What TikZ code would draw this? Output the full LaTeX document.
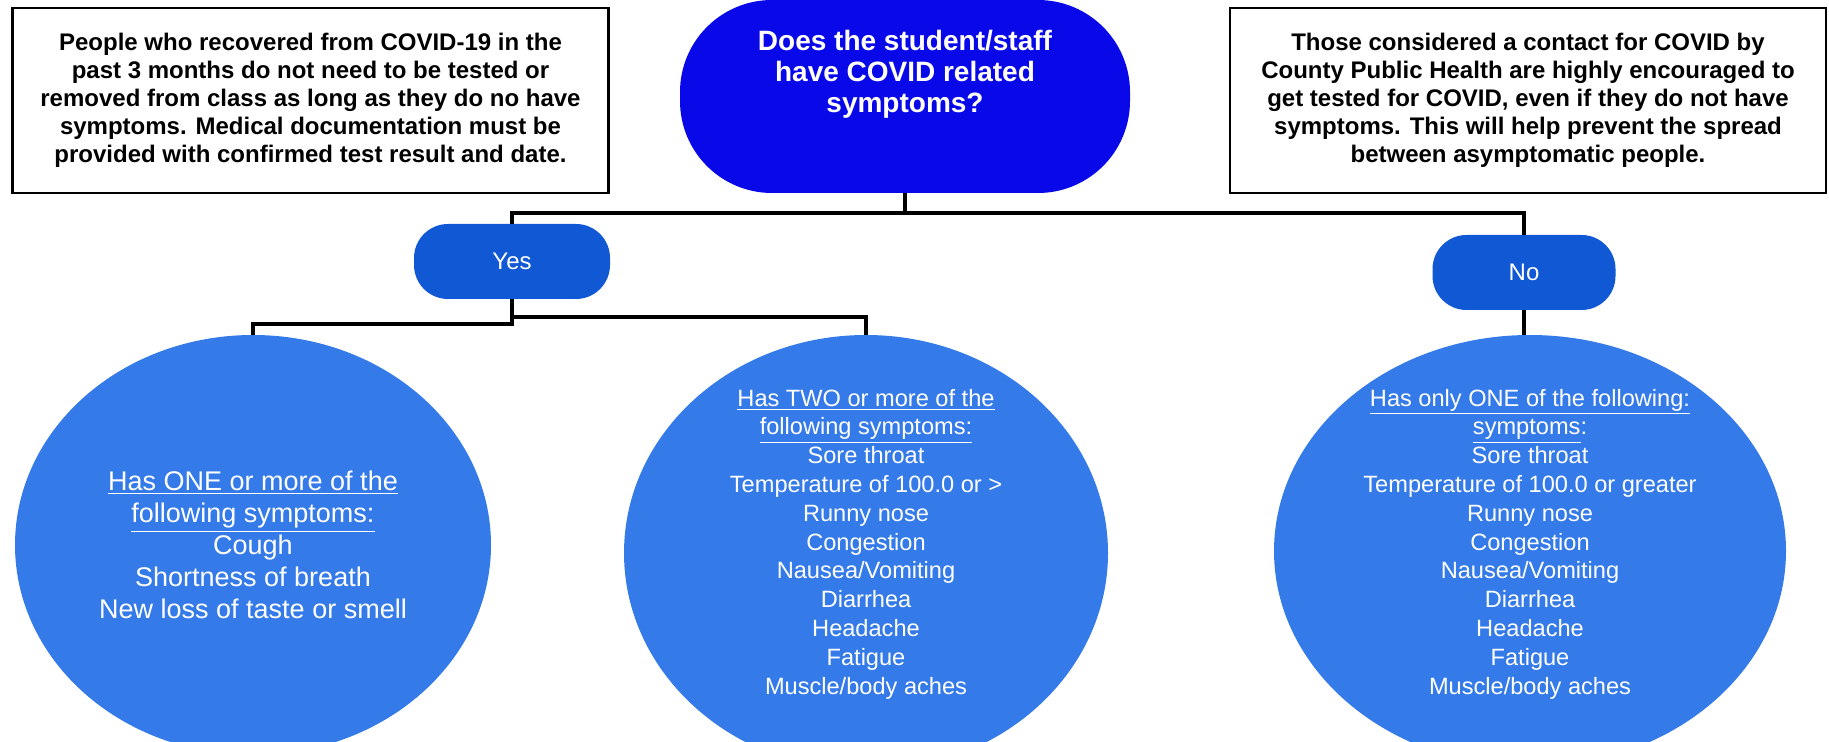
\documentclass[tikz,border=0pt]{standalone}
\usepackage{fontspec}
\setmainfont{Liberation Sans}
\usetikzlibrary{shapes.geometric}
\definecolor{askblue}{RGB}{8,8,232}
\definecolor{pillblue}{RGB}{17,88,212}
\definecolor{bubblue}{RGB}{52,122,232}

\begin{document}
\begin{tikzpicture}[x=0.5pt,y=-0.5pt,
note/.style={draw=black,line width=1.4pt,fill=white,minimum width=298pt,
minimum height=92.5pt,align=center,font=\bfseries\fontsize{12}{14}\selectfont},
ask/.style={fill=askblue,rounded corners=46pt,minimum width=225pt,minimum height=96.5pt},
asktxt/.style={text=white,align=center,font=\bfseries\fontsize{14}{15.5}\selectfont},
pill/.style={fill=pillblue,rounded corners=17pt,minimum height=37.5pt,
text=white,font=\fontsize{12}{14}\selectfont},
bubble/.style={ellipse,fill=bubblue,inner sep=0pt},
bubtxt/.style={text=white,align=center,font=\fontsize{11.8}{14.4}\selectfont},
wire/.style={line width=2.2pt,black}
]
\useasboundingbox (0,0) rectangle (1829,742);

% notes and question
\node[note] (recov) at (310.5,100.5) {People who recovered from COVID-19 in the\\
past 3 months do not need to be tested or\\
removed from class as long as they do no have\\
symptoms. Medical documentation must be\\
provided with confirmed test result and date.};
\node[note] (contact) at (1528,100.5) {Those considered a contact for COVID by\\
County Public Health are highly encouraged to\\
get tested for COVID, even if they do not have\\
symptoms. This will help prevent the spread\\
between asymptomatic people.};
\node[ask] (q) at (905,96.5) {};
\node[asktxt] (qtxt) at ([yshift=11pt]q.center) {Does the student/staff\\have COVID related\\symptoms?};

% answers
\node[pill,minimum width=98pt] (yes) at (512,261.5) {Yes};
\node[pill,minimum width=91.5pt] (no) at (1524,272.5) {No};

% symptom groups
\node[bubble,minimum width=238pt,minimum height=210pt] (one) at (253,545) {};
\node[bubble,minimum width=242pt,minimum height=218pt] (two) at (866,553) {};
\node[bubble,minimum width=256pt,minimum height=216pt] (only) at (1530,551) {};
\node[bubtxt,font=\fontsize{13.5}{16}\selectfont] (onetxt) at (one.center)
{\underline{Has ONE or more of the}\\\underline{following symptoms:}\\Cough\\
Shortness of breath\\New loss of taste or smell};
\node[bubtxt] (twotxt) at ([yshift=4.5pt]two.center)
{\underline{Has TWO or more of the}\\\underline{following symptoms:}\\Sore throat\\
Temperature of 100.0 or >\\Runny nose\\Congestion\\Nausea/Vomiting\\Diarrhea\\
Headache\\Fatigue\\Muscle/body aches};
\node[bubtxt] (onlytxt) at ([yshift=3.5pt]only.center)
{\underline{Has only ONE of the following:}\\\underline{symptoms}:\\Sore throat\\
Temperature of 100.0 or greater\\Runny nose\\Congestion\\Nausea/Vomiting\\Diarrhea\\
Headache\\Fatigue\\Muscle/body aches};

% connectors
\coordinate (split) at (905,213);
\coordinate (ysplitl) at (512,324);
\coordinate (ysplitr) at (512,317);
\draw[wire] (q.south) -- (split) -| (yes.north);
\draw[wire] (split) -| (no.north);
\draw[wire] (yes.south) -- (ysplitl) -| (one.north);
\draw[wire] (ysplitr) -| (two.north);
\draw[wire] (no.south) -- (no.south |- only.north);
\end{tikzpicture}
\end{document}
